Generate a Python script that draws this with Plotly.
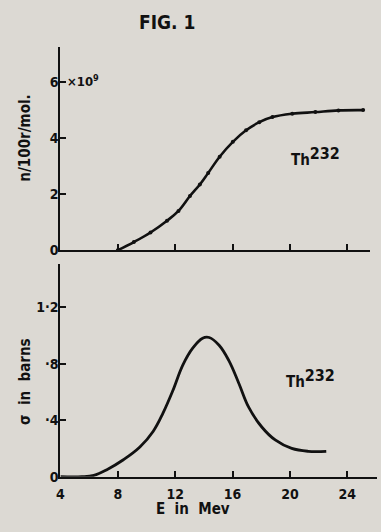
import plotly.graph_objects as go

# Top panel: neutron yield (x10^9 n/100r/mol) vs E (MeV)
yield_E = [8.0, 9.12, 10.28, 11.43, 12.23, 13.03, 13.72, 14.30, 15.10, 16.02,
           16.94, 17.86, 18.78, 20.16, 21.77, 23.38, 25.1]
yield_n = [0.0, 0.29, 0.63, 1.05, 1.40, 1.93, 2.34, 2.75, 3.33, 3.86,
           4.27, 4.56, 4.74, 4.86, 4.92, 4.98, 4.99]

# Bottom panel: cross-section (barns) vs E (MeV)
sigma_E = [4.0, 5.5, 6.33, 7.24, 8.39, 9.54, 10.46, 11.15, 11.84, 12.53, 13.22,
           13.91, 14.37, 15.06, 15.75, 16.44, 17.13, 18.05, 18.97, 20.12, 21.27, 22.53]
sigma_b = [0.0, 0.0, 0.01, 0.05, 0.12, 0.21, 0.32, 0.45, 0.61, 0.79, 0.91,
           0.98, 0.985, 0.93, 0.82, 0.66, 0.49, 0.35, 0.26, 0.20, 0.18, 0.18]

top_yticks = [0, 2, 4, 6]
top_ytext = ["0", "2", "4", "6"]
bot_yticks = [0, 0.4, 0.8, 1.2]
bot_ytext = ["0", "·4", "·8", "1·2"]
xticks = [4, 8, 12, 16, 20, 24]
xtext = ["4", "8", "12", "16", "20", "24"]

BG = "#dcd9d3"
INK = "#111111"
FONT = "DejaVu Sans Condensed, DejaVu Sans"

W, H = 381, 532
PXU = 14.5  # pixels per MeV

fig = go.Figure()
fig.add_trace(go.Scatter(x=yield_E, y=yield_n, mode="lines+markers",
                         line=dict(color=INK, width=2.6, shape="spline", smoothing=1.1),
                         marker=dict(size=4, color=INK),
                         xaxis="x", yaxis="y", showlegend=False))
fig.add_trace(go.Scatter(x=sigma_E, y=sigma_b, mode="lines",
                         line=dict(color=INK, width=2.8, shape="spline", smoothing=1.1),
                         xaxis="x2", yaxis="y2", showlegend=False))

tfont = dict(family=FONT, size=14, color=INK, weight="bold")
axis_common = dict(showline=True, linecolor=INK, linewidth=2, showgrid=False,
                   zeroline=False, ticks="inside", ticklen=6, tickwidth=2,
                   tickcolor=INK, tickfont=tfont)

fig.update_layout(
    width=W, height=H,
    margin=dict(l=0, r=0, t=0, b=0),
    paper_bgcolor=BG, plot_bgcolor=BG,
    font=dict(family=FONT, color=INK),
    xaxis=dict(domain=[57 / W, 370 / W], range=[4, 4 + 313 / PXU], anchor="y",
               tickvals=xticks[1:], showticklabels=False, **axis_common),
    yaxis=dict(domain=[(H - 254) / H, (H - 48) / H], range=[0, 206 / 28.5], anchor="x",
               tickvals=top_yticks, ticktext=top_ytext, ticklabelstandoff=-3,
               **axis_common),
    xaxis2=dict(domain=[57 / W, 377 / W], range=[4, 4 + 320 / PXU], anchor="y2",
                tickvals=xticks, ticktext=xtext, ticklabelstandoff=3, **axis_common),
    yaxis2=dict(domain=[(H - 484) / H, (H - 268) / H], range=[0, 216 / 143.5], anchor="x2",
                tickvals=bot_yticks, ticktext=bot_ytext, ticklabelstandoff=-3,
                **axis_common),
)

def px_ann(text, x, y, size=13, angle=0):
    fig.add_annotation(text=text, x=x / W, y=(H - y) / H, xref="paper", yref="paper",
                       xanchor="center", yanchor="middle",
                       showarrow=False, textangle=angle,
                       font=dict(family=FONT, size=size, color=INK, weight="bold"))

TH = "Th<sup><span style='font-size:16px'>232</span></sup>"
px_ann("FIG. 1", 165, 22, size=19)
px_ann("×10<sup>9</sup>", 80, 82, size=13)
px_ann("n/100r/mol.", 21, 140, size=15, angle=-90)
px_ann("σ  in  barns", 21, 387, size=15, angle=-90)
px_ann(TH, 315, 159, size=15)
px_ann(TH, 310, 384, size=15)
px_ann("E  in  Mev", 191, 517, size=15)

fig.write_html("out.html")
